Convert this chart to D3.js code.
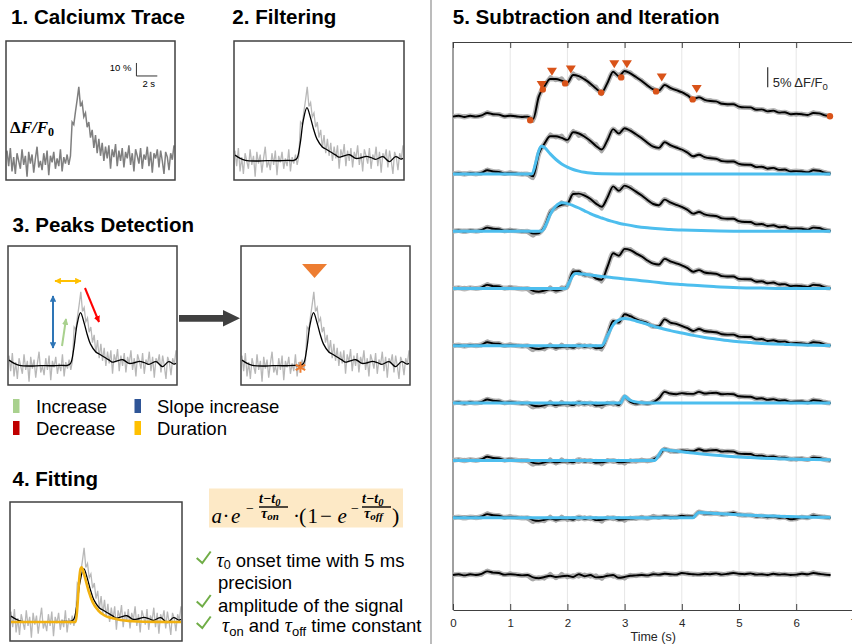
<!DOCTYPE html>
<html>
<head>
<meta charset="utf-8">
<title>Calcium trace: filtering, peak detection, fitting, subtraction</title>
<script src="https://d3js.org/d3.v7.min.js"></script>
<style>
  body { margin: 0; background: #fff; }
  svg { display: block; font-family: "Liberation Sans", Arial, sans-serif; }
  .title { font-weight: bold; font-size: 19.5px; fill: #000; }
  .box { fill: none; stroke: #404040; stroke-width: 1.5; }
  .raw { fill: none; stroke: #b8b8b8; stroke-width: 1.3; }
  .smooth { fill: none; stroke: #000; stroke-width: 1.3; }
  .txt { font-size: 18.5px; fill: #000; }
  .serif { font-family: "Liberation Serif", "DejaVu Serif", serif; }
  .axis text { font-size: 11.5px; fill: #262626; font-family: "Liberation Sans", Arial, sans-serif; }
  .axis path, .axis line { stroke: #404040; }
</style>
</head>
<body>
<svg width="852" height="644"></svg>
<script>
// ---------- example transient used in panels 1-4 (t in s, dF/F0 in %) ----------
var rawStep = 0.16;
var rawTrace = [8, -4, 10, -8, 3, -10, 6, 0, -6, 9,
  -3, 4, -12, 7, -2, 5, -9, 2, 11, -5,
  0, -7, 6, -3, 8, -11, 4, -1, 7, -6,
  2, -4, 9, -8, 3, -2, 5, -3, 4, 30,
  28, 38, 47, 57, 42, 45, 34, 37, 26, 30,
  18, 24, 10, 20, 6, 17, 4, 14, 0, 11,
  2, 12, -6, 9, 3, 13, -4, 8, 0, 10,
  -5, 7, 2, 12, -3, 6, -8, 9, 4, -2,
  10, -6, 5, 1, 11, -4, 7, -9, 6, 2,
  9, -5, 8, 0, -10, 7, 3, -7, 6, 1, 12];

var smoothTrace = [[0, 4.5], [0.5, 2], [1, 0.5], [2, 0], [3, 0.3], [4, 0.2], [5, 0.5],
  [5.6, 0.4], [5.9, 2], [6.2, 13], [6.5, 31], [6.85, 41], [7.2, 33], [7.5, 24], [7.8, 17],
  [8.3, 11], [8.8, 8.5], [9.2, 6.5], [9.6, 4.5], [9.9, 3.0], [10.3, 3.8], [10.9, 4.8],
  [11.5, 2.0], [12.0, 2.5], [12.5, 3.5], [13.0, 2.5], [13.4, 1.3], [14.1, 3.3], [14.7, -0.5],
  [15.3, 3.3], [15.8, 1.5], [16, 2.0]];

var fitTrace = [[0, 0], [6.1, 0], [6.25, 12], [6.4, 31], [6.55, 41], [6.65, 42], [6.9, 36],
  [7.3, 24], [7.7, 15], [8.2, 9], [8.8, 5], [9.5, 3], [10.3, 1.5], [11.4, 0.6], [12.5, 0.2], [16, 0]];

var detectedPeak = [6.95];
var detectedOnset = [[5.6, -1]];

var legendLabels = ["Increase", "Decrease", "Slope increase", "Duration"];
var legendColors = ["#a9d18e", "#c00000", "#2f5597", "#ffc000"];

var checkLines = ["onset time with 5 ms", "precision", "amplitude of the signal", "time constant"];

// ---------- panel 5: rows sampled every 0.1 s, dF/F0 in % ----------
var dt5 = 0.1;
var fullTrace = [0.0, 0.2, -0.1, 0.2, 0.0, 0.3, 0.9, 0.6, 0.5, 0.1,
  0.2, 0.1, -0.1, 0.0, -0.6, 5.0, 7.6, 9.4, 9.4, 9.0,
  8.5, 10.4, 10.1, 9.3, 8.3, 7.0, 6.1, 8.4, 11.2, 10.1,
  11.4, 10.8, 9.9, 8.9, 7.8, 6.8, 6.5, 7.9, 7.2, 6.6,
  6.1, 5.3, 4.4, 4.8, 4.2, 3.9, 3.8, 3.2, 3.1, 3.1,
  2.5, 2.3, 2.3, 1.7, 1.8, 1.3, 1.5, 1.0, 1.1, 0.6,
  0.7, 0.6, 0.4, 0.9, 0.8, 0.3, 0.1];
var resid1 = [0.0, 0.2, -0.1, 0.2, 0.0, 0.3, 0.9, 0.6, 0.5, 0.1,
  0.2, 0.1, -0.1, 0.0, -0.6, -0.5, 1.2, 4.6, 6.0, 6.6,
  6.9, 9.3, 9.4, 8.9, 8.1, 6.9, 6.1, 8.4, 11.2, 10.1,
  11.4, 10.8, 9.9, 8.9, 7.8, 6.8, 6.5, 7.9, 7.2, 6.6,
  6.1, 5.3, 4.4, 4.8, 4.2, 3.9, 3.8, 3.2, 3.1, 3.1,
  2.5, 2.3, 2.3, 1.7, 1.8, 1.3, 1.5, 1.0, 1.1, 0.6,
  0.7, 0.6, 0.4, 0.9, 0.8, 0.3, 0.1];
var resid2 = [0.0, 0.2, -0.1, 0.2, 0.0, 0.3, 0.9, 0.6, 0.5, 0.1,
  0.2, 0.1, -0.1, 0.0, -0.6, -0.8, -0.5, -0.2, -0.5, -0.3,
  0.6, 4.2, 4.3, 3.3, 3.4, 2.5, 2.2, 5.4, 8.8, 8.2,
  9.9, 9.6, 8.8, 8.0, 7.0, 6.2, 6.0, 7.4, 6.8, 6.3,
  5.8, 5.1, 4.2, 4.6, 4.0, 3.8, 3.7, 3.1, 3.0, 3.0,
  2.4, 2.3, 2.3, 1.7, 1.8, 1.3, 1.5, 1.0, 1.1, 0.6,
  0.7, 0.6, 0.4, 0.9, 0.8, 0.3, 0.1];
var resid3 = [0.0, 0.2, -0.1, 0.2, 0.0, 0.3, 0.9, 0.6, 0.5, 0.1,
  0.2, 0.1, -0.1, 0.0, -0.6, -0.8, -0.5, -0.2, -0.5, -0.3,
  -0.2, -0.5, 0.2, -0.3, 0.0, -0.6, -0.5, 2.6, 6.2, 5.8,
  7.9, 7.4, 6.7, 6.1, 5.7, 4.8, 4.9, 6.6, 5.8, 5.5,
  5.0, 4.4, 3.7, 4.2, 3.7, 3.5, 3.4, 2.9, 2.8, 2.8,
  2.3, 2.2, 2.2, 1.6, 1.7, 1.2, 1.4, 1.0, 1.1, 0.6,
  0.7, 0.6, 0.4, 0.9, 0.8, 0.3, 0.1];
var resid4 = [0.0, 0.2, -0.1, 0.2, 0.0, 0.3, 0.9, 0.6, 0.5, 0.1,
  0.2, 0.1, -0.1, 0.0, -0.6, -0.8, -0.5, -0.2, -0.5, -0.3,
  -0.2, -0.5, 0.2, -0.3, 0.0, -0.6, -0.5, -0.2, 0.0, -0.5,
  1.6, 0.3, -0.1, 0.0, -0.1, 0.2, 1.2, 2.8, 2.4, 2.2,
  2.5, 2.3, 2.3, 2.8, 2.4, 2.5, 2.6, 2.2, 2.3, 2.2,
  1.7, 1.6, 1.6, 1.1, 1.2, 0.8, 1.0, 0.6, 0.7, 0.3,
  0.4, 0.4, 0.2, 0.7, 0.6, 0.2, 0.0];
var resid5 = [0.0, 0.2, -0.1, 0.2, 0.0, 0.3, 0.9, 0.6, 0.5, 0.1,
  0.2, 0.1, -0.1, 0.0, -0.6, -0.8, -0.5, -0.2, -0.5, -0.3,
  -0.2, -0.5, 0.2, -0.3, 0.0, -0.6, -0.5, -0.2, 0.0, -0.5,
  -0.4, -0.2, -0.1, 0.0, -0.1, 0.2, 1.2, 2.8, 2.4, 2.2,
  2.5, 2.3, 2.3, 2.8, 2.4, 2.5, 2.6, 2.2, 2.3, 2.2,
  1.7, 1.6, 1.6, 1.1, 1.2, 0.8, 1.0, 0.6, 0.7, 0.3,
  0.4, 0.4, 0.2, 0.7, 0.6, 0.2, 0.0];
var resid6 = [0.0, 0.2, -0.1, 0.2, 0.0, 0.3, 0.9, 0.6, 0.5, 0.1,
  0.2, 0.1, -0.1, 0.0, -0.6, -0.8, -0.5, -0.2, -0.5, -0.3,
  -0.2, -0.5, 0.2, -0.3, 0.0, -0.6, -0.5, -0.2, 0.0, -0.5,
  -0.4, -0.2, -0.1, 0.0, -0.1, 0.2, 0.1, 0.3, 0.2, 0.1,
  0.5, 0.3, 0.3, 1.4, 1.1, 1.0, 1.1, 0.8, 1.0, 1.2,
  0.8, 0.6, 0.7, 0.3, 0.4, 0.1, 0.3, 0.0, 0.1, -0.4,
  -0.2, 0.1, 0.0, 0.5, 0.3, 0.1, 0.0];
var resid7 = [0.0, 0.2, -0.1, 0.2, 0.0, 0.3, 0.9, 0.6, 0.5, 0.1,
  0.2, 0.1, -0.1, 0.0, -0.6, -0.8, -0.5, -0.2, -0.5, -0.3,
  -0.2, -0.5, 0.2, -0.3, 0.0, -0.6, -0.5, -0.2, 0.0, -0.7,
  -0.5, -0.2, -0.1, 0.0, -0.1, 0.2, 0.1, 0.3, 0.2, 0.1,
  0.5, 0.3, 0.2, 0.1, 0.3, 0.2, 0.4, 0.1, 0.3, 0.5,
  0.3, 0.2, 0.4, 0.1, 0.2, 0.0, 0.3, 0.1, 0.2, 0.0,
  0.1, 0.3, 0.2, 0.5, 0.3, 0.1, 0.0];
// raw (gray) minus filtered, same grid
var rawJitter = [0.4, -0.3, 0.45, -0.25, 0.3, -0.4, 0.4, -0.2, 0.3, -0.3,
  0.4, -0.2, 0.3, -0.4, -0.7, 0.4, -0.6, 0.7, -0.5, 0.8,
  -0.6, 0.6, -0.8, 0.6, -0.6, 0.7, -0.7, 0.5, -0.6, 0.6,
  -0.6, 0.45, -0.4, 0.4, -0.3, 0.45, -0.3, 0.3, -0.4, 0.3,
  -0.25, 0.4, -0.3, 0.3, -0.4, 0.4, -0.25, 0.4, -0.3, 0.3,
  -0.4, 0.25, -0.3, 0.4, -0.3, 0.3, -0.25, 0.4, -0.3, 0.3,
  -0.4, 0.3, -0.25, 0.4, -0.3, 0.3, -0.2];

var rowTraces = [fullTrace, fullTrace, resid1, resid2, resid3, resid4, resid5, resid6, resid7];

// fitted events, shown on rows 2..8
var fit1 = [[0, 0], [1.38, 0], [1.45, 3.0], [1.5, 5.8], [1.55, 6.9], [1.6, 6.6], [1.7, 5.0], [1.8, 3.6],
  [1.9, 2.5], [2.0, 1.7], [2.1, 1.1], [2.2, 0.7], [2.3, 0.4], [2.4, 0.2], [2.6, 0.05], [3.0, 0], [6.6, 0]];
var fit2 = [[0, 0], [1.55, 0], [1.62, 1.5], [1.7, 4.2], [1.8, 6.3], [1.9, 7.1], [2.0, 6.9], [2.1, 6.4],
  [2.2, 5.8], [2.3, 5.1], [2.4, 4.4], [2.5, 3.8], [2.6, 3.3], [2.7, 2.8], [2.8, 2.4], [2.9, 2.0],
  [3.0, 1.7], [3.2, 1.2], [3.4, 0.85], [3.6, 0.6], [3.8, 0.4], [4.0, 0.3], [4.5, 0.1], [5.0, 0], [6.6, 0]];
var fit3 = [[0, 0], [1.97, 0], [2.03, 1.5], [2.1, 3.3], [2.15, 3.75], [2.2, 3.7], [2.4, 3.35], [2.6, 3.0],
  [2.8, 2.7], [3.0, 2.4], [3.2, 2.1], [3.4, 1.8], [3.6, 1.5], [3.8, 1.2], [4.0, 1.0], [4.2, 0.8],
  [4.4, 0.6], [4.6, 0.45], [4.8, 0.3], [5.0, 0.2], [5.4, 0.1], [6.0, 0], [6.6, 0]];
var fit4 = [[0, 0], [2.6, 0], [2.7, 2.5], [2.8, 5.2], [2.9, 6.5], [3.0, 6.8], [3.1, 6.6], [3.2, 6.2],
  [3.4, 5.4], [3.6, 4.5], [3.8, 3.8], [4.0, 3.2], [4.2, 2.6], [4.4, 2.1], [4.6, 1.7], [4.8, 1.3],
  [5.0, 1.0], [5.2, 0.8], [5.4, 0.6], [5.6, 0.45], [5.8, 0.35], [6.0, 0.25], [6.3, 0.15], [6.6, 0.1]];
var fit5 = [[0, 0], [2.93, 0], [2.97, 1.0], [3.0, 1.75], [3.05, 1.2], [3.1, 0.7], [3.2, 0.3], [3.3, 0.1],
  [3.4, 0], [6.6, 0]];
var fit6 = [[0, 0], [3.53, 0], [3.6, 1.4], [3.67, 2.7], [3.8, 2.5], [4.0, 2.15], [4.2, 1.85], [4.4, 1.55],
  [4.6, 1.3], [4.8, 1.05], [5.0, 0.85], [5.2, 0.7], [5.4, 0.55], [5.6, 0.45], [5.8, 0.35], [6.0, 0.3],
  [6.3, 0.2], [6.6, 0.15]];
var fit7 = [[0, 0], [4.2, 0], [4.25, 0.8], [4.3, 1.3], [4.4, 1.25], [4.6, 1.05], [4.8, 0.9], [5.0, 0.75],
  [5.2, 0.6], [5.4, 0.5], [5.6, 0.4], [5.8, 0.3], [6.0, 0.22], [6.3, 0.12], [6.6, 0.08]];
var fits = [fit1, fit2, fit3, fit4, fit5, fit6, fit7];

var onsetDots = [[1.35, -0.9], [1.57, 6.8], [1.96, 8.3], [2.59, 6.0], [2.94, 9.8], [3.55, 6.3], [4.19, 4.3], [6.59, 0.1]];
var peakMarks = [[1.55, 7.9], [1.73, 11.2], [2.06, 11.8], [2.82, 13.1], [3.04, 13.1], [3.65, 9.8], [4.26, 6.9]];

var xTicks = [0, 1, 2, 3, 4, 5, 6, 7];

// ====================================================================
var svg = d3.select("svg");
var defs = svg.append("defs");

function arrowMarker(id, color) {
  defs.append("marker").attr("id", id)
      .attr("viewBox", "0 0 10 10").attr("refX", 9).attr("refY", 5)
      .attr("markerWidth", 6.5).attr("markerHeight", 6.5)
      .attr("markerUnits", "userSpaceOnUse").attr("orient", "auto-start-reverse")
    .append("path").attr("d", "M0,0 L10,5 L0,10 z").attr("fill", color);
}
arrowMarker("a-yel", "#ffc000");
arrowMarker("a-blu", "#2e75b6");
arrowMarker("a-grn", "#a9d18e");
arrowMarker("a-red", "#ff0000");

function title(x, y, len, s) {
  svg.append("text").attr("class", "title").attr("x", x).attr("y", y)
     .attr("textLength", len).attr("lengthAdjust", "spacingAndGlyphs").text(s);
}

function scalesFor(b) {
  return {
    x: d3.scaleLinear().domain([0, 16]).range([b.x + 1, b.x + b.w - 1]),
    y: d3.scaleLinear().domain([0, 50]).range([b.y + 120, b.y + 55])
  };
}
function drawTrace(s, pts, cls, curve) {
  var line = d3.line().x(function(d) { return s.x(d[0]); })
                      .y(function(d) { return s.y(d[1]); })
                      .curve(curve || d3.curveLinear);
  return svg.append("path").datum(pts).attr("class", cls).attr("d", line);
}
function frame(b) {
  svg.append("rect").attr("class", "box").attr("x", b.x).attr("y", b.y).attr("width", b.w).attr("height", b.h);
}
var rawPts = rawTrace.map(function(v, i) { return [i * rawStep, v]; });

// ---------- 1. Calciumx Trace ----------
title(11, 24, 174, "1. Calciumx Trace");
var b1 = {x: 6, y: 41, w: 169, h: 139};
var s1 = scalesFor(b1);
drawTrace(s1, rawPts, "raw").style("stroke", "#7f7f7f").style("stroke-width", 1.5);
frame(b1);
var sbT = 12.4, sbV = 65.4;
svg.append("path")
   .attr("d", "M" + s1.x(sbT) + "," + s1.y(sbV + 10) + "V" + s1.y(sbV) + "H" + s1.x(sbT + 2))
   .attr("fill", "none").attr("stroke", "#333").attr("stroke-width", 1);
svg.append("text").attr("x", s1.x(sbT) - 5).attr("y", s1.y(sbV + 5) + 1.5)
   .attr("text-anchor", "end").style("font-size", "9.5px").text("10 %");
svg.append("text").attr("x", s1.x(sbT) + 6).attr("y", s1.y(sbV) + 11.5)
   .style("font-size", "9.5px").text("2 s");
var dff = svg.append("text").attr("class", "serif").attr("x", 10).attr("y", 132.5)
   .style("font-size", "17px").style("font-weight", "bold");
dff.append("tspan").text("Δ");
dff.append("tspan").style("font-style", "italic").text("F/F");
dff.append("tspan").attr("dy", 3).style("font-size", "12px").text("0");

// ---------- 2. Filtering ----------
title(232.3, 24, 104, "2. Filtering");
var b2 = {x: 234, y: 41, w: 170, h: 139};
var s2 = scalesFor(b2);
drawTrace(s2, rawPts, "raw");
drawTrace(s2, smoothTrace, "smooth", d3.curveCatmullRom);
frame(b2);

// ---------- 3. Peaks Detection ----------
title(12.5, 231.7, 181.5, "3. Peaks Detection");
var b3 = {x: 8, y: 246, w: 169, h: 139};
var s3 = scalesFor(b3);
drawTrace(s3, rawPts, "raw");
drawTrace(s3, smoothTrace, "smooth", d3.curveCatmullRom);
frame(b3);
function arrow(x1, y1, x2, y2, color, id, both) {
  var l = svg.append("line").attr("x1", x1).attr("y1", y1).attr("x2", x2).attr("y2", y2)
     .attr("stroke", color).attr("stroke-width", 2).attr("marker-end", "url(#" + id + ")");
  if (both) l.attr("marker-start", "url(#" + id + ")");
}
arrow(b3.x + 47, b3.y + 35, b3.x + 73, b3.y + 35, "#ffc000", "a-yel", true);
arrow(b3.x + 45, b3.y + 50, b3.x + 45, b3.y + 102, "#2e75b6", "a-blu", true);
arrow(b3.x + 54, b3.y + 100, b3.x + 58, b3.y + 73, "#a9d18e", "a-grn", false);
arrow(b3.x + 77, b3.y + 42, b3.x + 91, b3.y + 76, "#ff0000", "a-red", false);

var b3b = {x: 241, y: 246, w: 169, h: 139};
var s3b = scalesFor(b3b);
drawTrace(s3b, rawPts, "raw");
drawTrace(s3b, smoothTrace, "smooth", d3.curveCatmullRom);
frame(b3b);
detectedPeak.forEach(function(t) {
  var cx = s3b.x(t), ty = b3b.y + 18;
  svg.append("path").attr("d", "M" + (cx - 12.5) + "," + ty + "L" + (cx + 12.5) + "," + ty + "L" + cx + "," + (ty + 14) + "Z")
     .attr("fill", "#ed7d31");
});
detectedOnset.forEach(function(d) {
  var cx = s3b.x(d[0]), cy = s3b.y(d[1]), r = 5.5;
  var p = "";
  [90, 30, -30].forEach(function(a) {
    var rad = a * Math.PI / 180, dx = r * Math.cos(rad), dy = r * Math.sin(rad);
    p += "M" + (cx - dx) + "," + (cy - dy) + "L" + (cx + dx) + "," + (cy + dy);
  });
  svg.append("path").attr("d", p).attr("stroke", "#ed7d31").attr("stroke-width", 2);
});
// big arrow between the two boxes
svg.append("path").attr("d", "M179,315L223,315L223,310L240,318.3L223,326.6L223,321.7L179,321.7Z")
   .attr("fill", "#404040");

// legend
legendLabels.forEach(function(lab, i) {
  var col = Math.floor(i / 2), row = i % 2;
  var lx = col ? 134.5 : 13, ly = row ? 421 : 399;
  svg.append("rect").attr("x", lx).attr("y", ly).attr("width", 6.5).attr("height", 14)
     .attr("fill", legendColors[i]);
  svg.append("text").attr("class", "txt").attr("x", col ? 157 : 36).attr("y", ly + 14).text(lab);
});

// ---------- 4. Fitting ----------
title(12.5, 485.7, 85.5, "4. Fitting");
var b4 = {x: 10, y: 502, w: 172, h: 139};
var s4 = scalesFor(b4);
drawTrace(s4, rawPts, "raw");
drawTrace(s4, smoothTrace, "smooth", d3.curveCatmullRom);
drawTrace(s4, fitTrace, "fit", d3.curveMonotoneX)
   .attr("fill", "none").attr("stroke", "#f2b10f").attr("stroke-width", 2.6);
frame(b4);

// formula
svg.append("rect").attr("x", 209).attr("y", 488.5).attr("width", 194).attr("height", 39).attr("fill", "#fde9c6");
var F = svg.append("g").attr("class", "serif").style("fill", "#000");
function ft(x, y, s, size, italic, weight) {
  return F.append("text").attr("x", x).attr("y", y).style("font-size", size + "px")
          .style("font-style", italic ? "italic" : "normal").style("font-weight", weight || "normal").text(s);
}
ft(211.5, 523, "a", 21, true);
ft(222.5, 523, "·", 21, false);
ft(231, 523, "e", 21, true);
ft(246, 513, "−", 14, false);
ft(299, 523, "(", 22, false);
ft(293, 523, "·", 21, false);
ft(307.5, 523, "1", 21, false);
ft(320, 523, "−", 21, false);
ft(337.5, 523, "e", 21, true);
ft(351, 513, "−", 14, false);
ft(392, 523, ")", 22, false);
[[259, "on"], [362, "off"]].forEach(function(fr) {
  var x0 = fr[0];
  var num = F.append("text").attr("x", x0).attr("y", 503).style("font-size", "14px")
             .style("font-style", "italic").style("font-weight", "bold");
  num.append("tspan").text("t−t");
  num.append("tspan").attr("dy", 2.5).style("font-size", "10.5px").text("0");
  F.append("line").attr("x1", x0).attr("x2", x0 + 29).attr("y1", 507).attr("y2", 507)
   .attr("stroke", "#000").attr("stroke-width", 1.4);
  var den = F.append("text").attr("x", x0 + 2).attr("y", 517.5).style("font-size", "14px")
             .style("font-style", "italic").style("font-weight", "bold");
  den.append("tspan").text("τ");
  den.append("tspan").attr("dy", 2).style("font-size", "11px").text(fr[1]);
});

// check list
var checkY = [558, 601.5, 623];
checkY.forEach(function(cy) {
  svg.append("path").attr("d", "M196.7," + cy + "L202.3," + (cy + 5) + "L210.7," + (cy - 6.5))
     .attr("fill", "none").attr("stroke", "#70ad47").attr("stroke-width", 2);
});
var l1 = svg.append("text").attr("class", "txt").attr("x", 216.5).attr("y", 566.5);
l1.append("tspan").attr("class", "serif").style("font-style", "italic").style("font-size", "20px").text("τ");
l1.append("tspan").attr("dy", 2.5).style("font-size", "12.5px").text("0");
l1.append("tspan").attr("dy", -2.5).text(" " + checkLines[0]);
svg.append("text").attr("class", "txt").attr("x", 218).attr("y", 588.5).text(checkLines[1]);
svg.append("text").attr("class", "txt").attr("x", 218).attr("y", 611.7).text(checkLines[2]);
var l4 = svg.append("text").attr("class", "txt").attr("x", 222).attr("y", 631.7);
l4.append("tspan").attr("class", "serif").style("font-style", "italic").style("font-size", "20px").text("τ");
l4.append("tspan").attr("dy", 4).style("font-size", "13px").text("on");
l4.append("tspan").attr("dy", -4).text(" and ");
l4.append("tspan").attr("class", "serif").style("font-style", "italic").style("font-size", "20px").text("τ");
l4.append("tspan").attr("dy", 4).style("font-size", "13px").text("off");
l4.append("tspan").attr("dy", -4).text(" " + checkLines[3]);

// divider
svg.append("line").attr("x1", 431).attr("x2", 431).attr("y1", 0).attr("y2", 644)
   .attr("stroke", "#a6a6a6").attr("stroke-width", 1.5);

// ---------- 5. Subtraction and Iteration ----------
title(452.7, 24, 267, "5. Subtraction and Iteration");
var x5 = d3.scaleLinear().domain([0, 7]).range([453, 853.4]);
var y5 = d3.scaleLinear().domain([-8.75, 133.25]).range([610, 42]);
var rowSpacing = 14.325;
var p5 = svg.append("g");

p5.selectAll(".grid").data(xTicks.slice(1)).enter().append("line")
  .attr("x1", function(d) { return x5(d); }).attr("x2", function(d) { return x5(d); })
  .attr("y1", 42).attr("y2", 610).attr("stroke", "#e6e6e6").attr("stroke-width", 1);

p5.append("g").attr("class", "axis").attr("transform", "translate(0,610)")
  .call(d3.axisBottom(x5).tickValues(xTicks).tickFormat(d3.format("d"))
          .tickSizeInner(-6).tickSizeOuter(0).tickPadding(9));
p5.append("g").attr("class", "axis").attr("transform", "translate(0,42)")
  .call(d3.axisTop(x5).tickValues(xTicks).tickSizeInner(-6).tickSizeOuter(0).tickFormat(""));
p5.append("line").attr("x1", 453).attr("x2", 453).attr("y1", 42).attr("y2", 610)
  .attr("stroke", "#404040").attr("stroke-width", 1);
p5.append("text").attr("x", x5(3.5)).attr("y", 641).attr("text-anchor", "middle")
  .style("font-size", "12.5px").style("fill", "#262626").text("Time (s)");

rowTraces.forEach(function(vals, r) {
  var off = (8 - r) * rowSpacing;
  var gray = d3.line().x(function(d, i) { return x5(i * dt5); })
                      .y(function(d, i) { return y5(d + rawJitter[i] + off); })
                      .curve(d3.curveMonotoneX);
  var black = d3.line().x(function(d, i) { return x5(i * dt5); })
                       .y(function(d) { return y5(d + off); })
                       .curve(d3.curveMonotoneX);
  p5.append("path").datum(vals).attr("d", black)
    .attr("fill", "none").attr("stroke", "#bababa").attr("stroke-width", 5).attr("stroke-linejoin", "round");
  p5.append("path").datum(vals).attr("d", gray)
    .attr("fill", "none").attr("stroke", "#a8a8a8").attr("stroke-width", 2.5).attr("stroke-linejoin", "round");
  p5.append("path").datum(vals).attr("d", black)
    .attr("fill", "none").attr("stroke", "#000").attr("stroke-width", 1.9);
  if (r >= 1 && r <= fits.length) {
    var blue = d3.line().x(function(d) { return x5(d[0]); })
                        .y(function(d) { return y5(d[1] + off); })
                        .curve(d3.curveMonotoneX);
    p5.append("path").datum(fits[r - 1]).attr("d", blue)
      .attr("fill", "none").attr("stroke", "#4dbeee").attr("stroke-width", 3);
  }
});

var off0 = 8 * rowSpacing;
p5.selectAll(".onset").data(onsetDots).enter().append("circle")
  .attr("cx", function(d) { return x5(d[0]); }).attr("cy", function(d) { return y5(d[1] + off0); })
  .attr("r", 3.2).attr("fill", "#d95319");
p5.selectAll(".peak").data(peakMarks).enter().append("path")
  .attr("d", function(d) {
    var cx = x5(d[0]), cy = y5(d[1] + off0);
    return "M" + (cx - 5) + "," + (cy - 4) + "L" + (cx + 5) + "," + (cy - 4) + "L" + cx + "," + (cy + 4) + "Z";
  })
  .attr("fill", "#d95319");

// 5 % scale bar
var sb5 = 767.7;
p5.append("line").attr("x1", sb5).attr("x2", sb5)
  .attr("y1", 67.3).attr("y2", 67.3 + (y5(0) - y5(5)))
  .attr("stroke", "#333").attr("stroke-width", 1.2);
var t5 = p5.append("text").attr("x", 772.7).attr("y", 86.7).style("font-size", "13px").style("fill", "#262626");
t5.append("tspan").text("5% ΔF/F");
t5.append("tspan").attr("dy", 3.5).style("font-size", "9.5px").text("0");
</script>
</body>
</html>
